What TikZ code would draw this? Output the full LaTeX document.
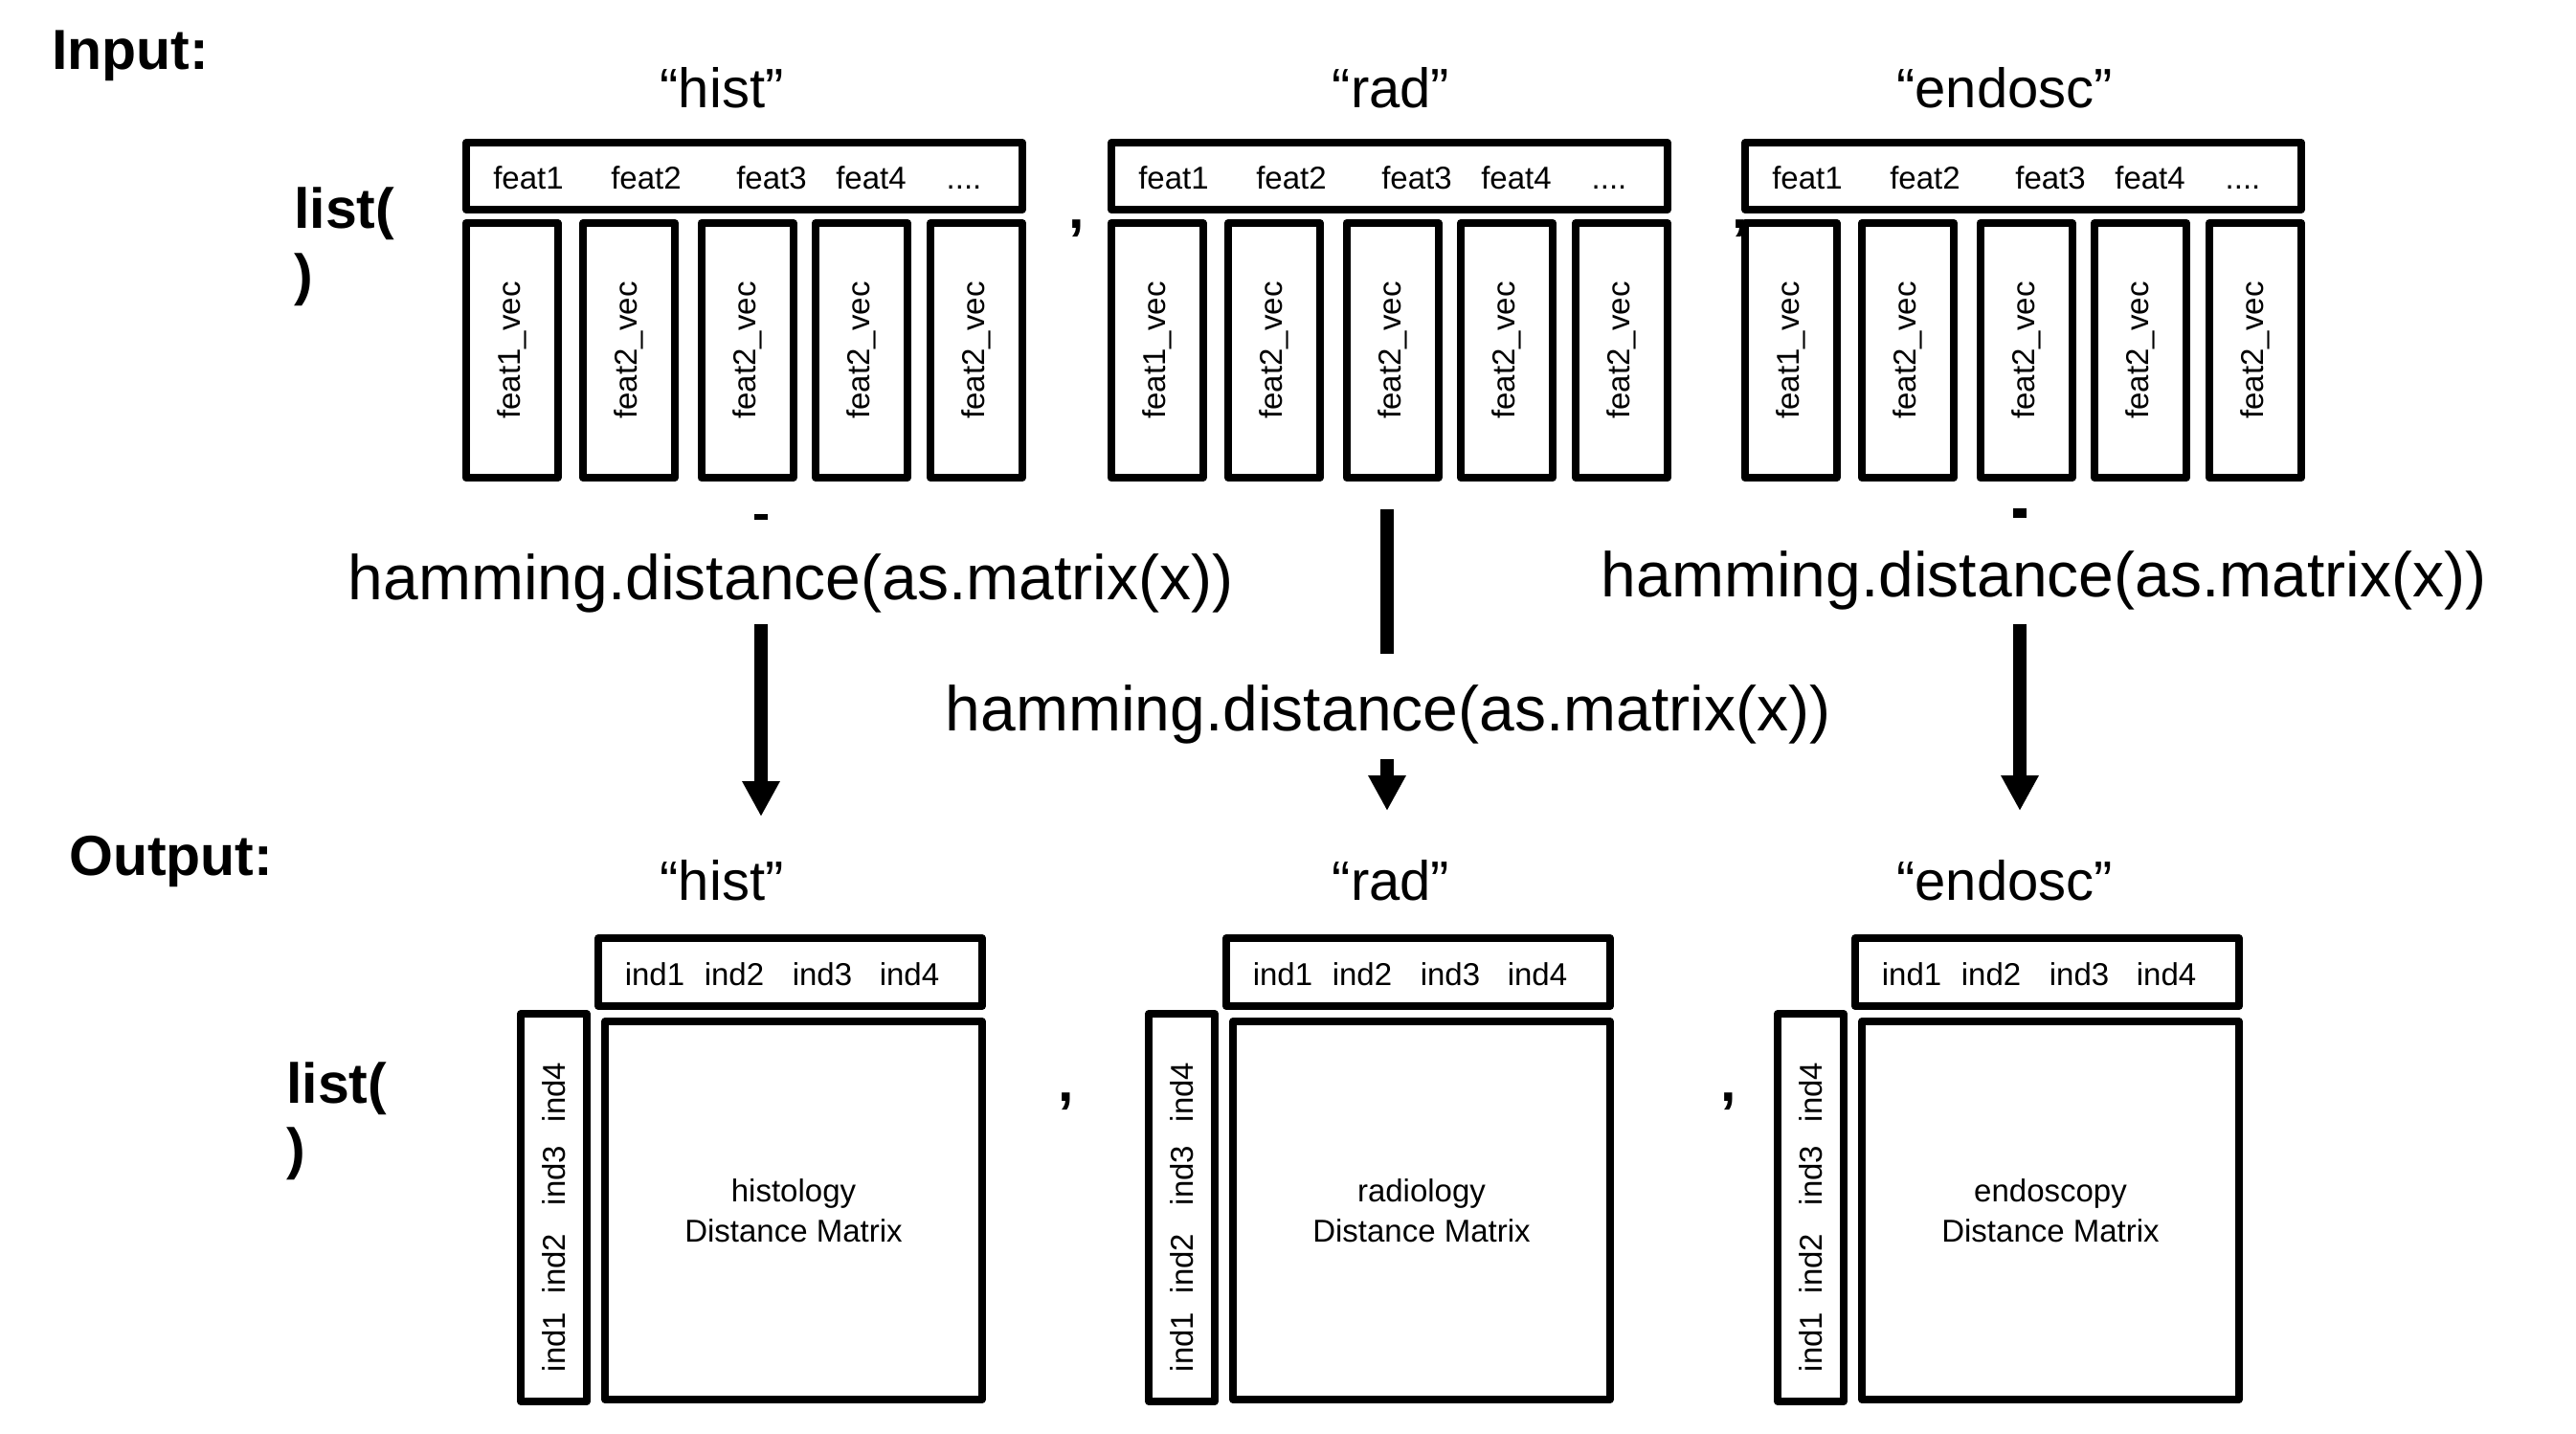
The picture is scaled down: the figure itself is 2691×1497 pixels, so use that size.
\documentclass[tikz,border=0pt]{standalone}
\usepackage{fontspec}
\setmainfont{Liberation Sans}
\usetikzlibrary{arrows.meta}
\newcommand\fourdots{....}
\tikzset{
  frame/.style={draw=black, line width=8pt, line join=round, fill=white, inner sep=0pt},
  small/.style={inner sep=0pt, font=\fontsize{33pt}{40pt}\selectfont},
  title/.style={inner sep=0pt, anchor=base, font=\fontsize{58pt}{70pt}\selectfont},
  bigbold/.style={inner sep=0pt, anchor=base west, font=\fontsize{59pt}{70pt}\selectfont\bfseries},
  ham/.style={inner sep=0pt, anchor=base, font=\fontsize{66pt}{80pt}\selectfont},
  arr/.style={line width=14pt, -{Triangle[length=37pt 0 0, width=37pt 0 0]}},
  stub/.style={line width=14pt}
}
\begin{document}
\begin{tikzpicture}[x=1pt, y=-1pt]
\useasboundingbox (0,0) rectangle (2691,1497);

% ---------- Input ----------
\node[bigbold] (inlbl) at (54,72) {Input:};
\node[bigbold] (inlist) at (307,238) {list(};
\node[bigbold] (inclose) at (307,307) {)};
\node[bigbold] (incomma1) at (1116,238) {,};
\node[bigbold] (incomma2) at (1809,238) {,};

\foreach \g/\nm/\tx/\k in {487/hist/754/1, 1161/rad/1453/2, 1823/endosc/2094/3} {
  \node[title] (intitle\k) at (\tx,112) {``\nm''};
  \node[frame, minimum width=581pt, minimum height=70pt] (inhdr\k) at (\g+290.5,184) {};
  \foreach \dx/\t/\j in {65/feat1/1, 188/feat2/2, 319/feat3/3, 423/feat4/4, 520/\fourdots/5}
    \node[small, anchor=base] (infeat\k\j) at (\g+\dx,197) {\t};
  \foreach \cx/\t/\j in {47.5/feat1/1, 170/feat2/2, 293.5/feat2/3, 413/feat2/4, 533/feat2/5}
    \node[frame, small, rotate=90, minimum width=266pt, minimum height=96pt] (invec\k\j) at (\g+\cx,366) {\t\_vec};
}

% ---------- hamming.distance ----------
\node[ham] (ham1) at (826,626) {hamming.distance(as.matrix(x))};
\node[ham] (ham2) at (1450,763) {hamming.distance(as.matrix(x))};
\node[ham] (ham3) at (2135,623) {hamming.distance(as.matrix(x))};

\coordinate (s1a) at (795,537);  \coordinate (s1b) at (795,543);
\coordinate (a1a) at (795,652);  \coordinate (a1b) at (795,853);
\coordinate (s2a) at (1449,532); \coordinate (s2b) at (1449,683);
\coordinate (a2a) at (1449,793); \coordinate (a2b) at (1449,847);
\coordinate (s3a) at (2110,531); \coordinate (s3b) at (2110,541);
\coordinate (a3a) at (2110,652); \coordinate (a3b) at (2110,847);
\draw[stub] (s1a) -- (s1b);
\draw[stub] (s2a) -- (s2b);
\draw[stub] (s3a) -- (s3b);
\draw[arr] (a1a) -- (a1b);
\draw[arr] (a2a) -- (a2b);
\draw[arr] (a3a) -- (a3b);

% ---------- Output ----------
\node[bigbold] (outlbl) at (72,914) {Output:};
\node[bigbold] (outlist) at (299,1152) {list(};
\node[bigbold] (outclose) at (299,1220) {)};
\node[bigbold] (outcomma1) at (1105,1150) {,};
\node[bigbold] (outcomma2) at (1797,1150) {,};

\foreach \o/\nm/\full/\tx/\k in {0/hist/histology/754/1, 656/rad/radiology/1453/2, 1313/endosc/endoscopy/2094/3} {
  \node[title] (outtitle\k) at (\tx,940) {``\nm''};
  \node[frame, minimum width=401pt, minimum height=71pt] (outhdr\k) at (825.5+\o,1015.5) {};
  \foreach \x/\j in {684/1, 767/2, 859/3, 950/4}
    \node[small, anchor=base] (outind\k\j) at (\x+\o,1029) {ind\j};
  \node[frame, minimum width=69pt, minimum height=405pt] (outside\k) at (578.5+\o,1261.5) {};
  \foreach \y/\j in {1402/1, 1320/2, 1228/3, 1141/4}
    \node[small, rotate=90] (outrow\k\j) at (579+\o,\y) {ind\j};
  \node[frame, minimum width=394pt, minimum height=395pt] (outmat\k) at (829+\o,1264.5) {};
  \node[small, anchor=base] (outname\k) at (829+\o,1255) {\full};
  \node[small, anchor=base] (outdm\k) at (829+\o,1297) {Distance Matrix};
}
\end{tikzpicture}
\end{document}
